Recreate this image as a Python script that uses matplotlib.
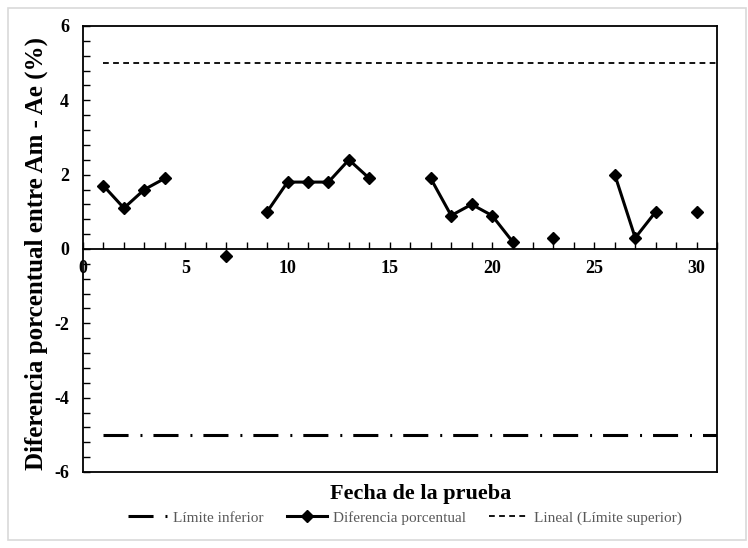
import numpy as np
import matplotlib.pyplot as plt
from matplotlib.ticker import MultipleLocator
from matplotlib.patches import Rectangle

# datos
dias = list(range(1, 31))
diferencia = [1.7, 1.1, 1.6, 1.9, np.nan, np.nan, -0.2, np.nan, 1.0, 1.8,
              1.8, 1.8, 2.4, 1.9, np.nan, np.nan, 1.9, 0.9, 1.2, 0.9,
              0.2, np.nan, 0.3, np.nan, np.nan, 2.0, 0.3, 1.0, np.nan, 1.0]
limite_x = [1, 31]
limite_inferior = [-5, -5]
limite_superior = [5, 5]

plt.rcParams['font.family'] = ['Liberation Serif', 'DejaVu Serif']
plt.rcParams['axes.unicode_minus'] = False

fig = plt.figure(figsize=(7.48, 5.48), dpi=100)
ax = fig.add_axes([0.111, 0.1387, 0.8476, 0.8139])

# marco del grafico
fig.patches.append(Rectangle((8 / 748, 1 - 540 / 548), 738 / 748, 532 / 548,
                             transform=fig.transFigure, fill=False,
                             edgecolor='#d9d9d9', lw=1.2))

ax.plot(limite_x, limite_inferior, color='black', lw=2.2,
        dashes=(8.2, 3.9, 0.65, 3.6), label='Límite inferior')
ax.plot(dias, diferencia, color='black', lw=2.2, marker='D', markersize=6.3,
        label='Diferencia porcentual')
ax.plot(limite_x, limite_superior, color='black', lw=1.3, dashes=(3.2, 2.4),
        label='Lineal (Límite superior)')

ax.set_xlim(0, 31)
ax.set_ylim(-6, 6)
ax.xaxis.set_major_locator(MultipleLocator(5))
ax.xaxis.set_minor_locator(MultipleLocator(1))
ax.yaxis.set_major_locator(MultipleLocator(2))
ax.yaxis.set_minor_locator(MultipleLocator(0.4))

ax.spines['bottom'].set_position(('data', 0))
ax.plot([0, 1], [0, 0], transform=ax.transAxes, color='black', lw=1.3,
        clip_on=False)
for s in ax.spines.values():
    s.set_linewidth(1.3)

ax.tick_params(which='both', direction='in', width=1, length=5)
ax.tick_params(axis='x', which='both', pad=8)
ax.tick_params(axis='y', which='both', pad=10)
for lab in ax.get_xticklabels() + ax.get_yticklabels():
    lab.set_fontweight('bold')
    lab.set_fontsize(13)

fig.text(36 / 748, 1 - 254 / 548, 'Diferencia porcentual entre Am - Ae (%)',
         rotation=90, ha='center', va='center', fontsize=18,
         fontweight='bold')
fig.text(421 / 748, 1 - 494 / 548, 'Fecha de la prueba', ha='center',
         va='center', fontsize=16, fontweight='bold')

leg = fig.legend(loc='center', bbox_to_anchor=(405 / 748, 1 - 518 / 548),
                 ncol=3, frameon=False, fontsize=11, handlelength=2.6,
                 columnspacing=1.5, handletextpad=0.4)
for t in leg.get_texts():
    t.set_color('#595959')

fig.savefig('out.png', dpi=100)
